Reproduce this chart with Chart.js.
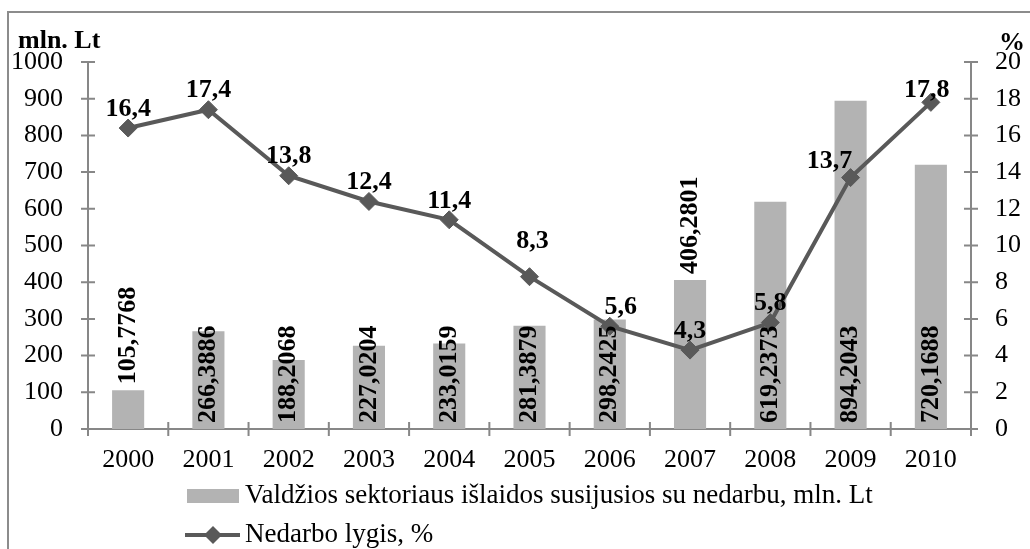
<!DOCTYPE html>
<html>
<head>
<meta charset="utf-8">
<script src="https://cdn.jsdelivr.net/npm/chart.js@4.4.0/dist/chart.umd.min.js"></script>
<style>
  html, body { margin: 0; padding: 0; background: #fff; overflow: hidden; }
  #wrap { position: relative; width: 1030px; height: 549px; }
  #frame { position: absolute; left: 7px; top: 11px; width: 1100px; height: 600px; border: 2px solid #8c8c8c; }
  canvas { position: absolute; left: 0; top: 0; }
</style>
</head>
<body>
<div id="wrap">
  <div id="frame"></div>
  <canvas id="chart" width="1030" height="549"></canvas>
</div>
<script>
const years = ['2000','2001','2002','2003','2004','2005','2006','2007','2008','2009','2010'];
const spending = [105.7768, 266.3886, 188.2068, 227.0204, 233.0159, 281.3879, 298.2425, 406.2801, 619.2373, 894.2043, 720.1688];
const unemployment = [16.4, 17.4, 13.8, 12.4, 11.4, 8.3, 5.6, 4.3, 5.8, 13.7, 17.8];
const spendingTicks = [0, 100, 200, 300, 400, 500, 600, 700, 800, 900, 1000];
const percentTicks = [0, 2, 4, 6, 8, 10, 12, 14, 16, 18, 20];
const spendingName = 'Valdžios sektoriaus išlaidos susijusios su nedarbu, mln. Lt';
const unemploymentName = 'Nedarbo lygis, %';

const axisColor = '#878787';
const barColor = '#b3b3b3';
const lineColor = '#595959';
const serif = "'Liberation Serif', 'Times New Roman', serif";

Chart.defaults.font.family = serif;
Chart.defaults.color = '#000';

const fmt = v => String(v).replace('.', ',');

// tick marks that cross the axis lines, like the office chart
const crossTicks = {
  id: 'crossTicks',
  beforeDatasetsDraw(chart) {
    const { ctx, chartArea: a, scales } = chart;
    const t = 7;
    ctx.save();
    ctx.strokeStyle = axisColor;
    ctx.lineWidth = 2;
    ctx.beginPath();
    scales.y.ticks.forEach((tk, i) => {
      const py = scales.y.getPixelForTick(i);
      ctx.moveTo(a.left - t, py); ctx.lineTo(a.left + t, py);
    });
    scales.y1.ticks.forEach((tk, i) => {
      const py = scales.y1.getPixelForTick(i);
      ctx.moveTo(a.right - t, py); ctx.lineTo(a.right + t, py);
    });
    for (let i = 0; i <= years.length; i++) {
      const px = scales.x.getPixelForValue(i - 0.5);
      ctx.moveTo(px, a.bottom - t); ctx.lineTo(px, a.bottom + t);
    }
    ctx.stroke();
    ctx.restore();
  }
};

const valueLabels = {
  id: 'valueLabels',
  afterDatasetsDraw(chart, args, opts) {
    const { ctx } = chart;
    ctx.save();
    ctx.fillStyle = '#000';
    ctx.font = 'bold 26px ' + serif;

    // bar labels, rotated
    chart.getDatasetMeta(0).data.forEach((el, i) => {
      const outside = opts.barOutside.includes(i);
      const y0 = outside ? el.y - 6 : el.base - 6;
      ctx.save();
      ctx.translate(el.x, y0);
      ctx.rotate(-Math.PI / 2);
      ctx.textAlign = 'left';
      ctx.textBaseline = 'middle';
      ctx.fillText(fmt(spending[i]), 0, 0);
      ctx.restore();
    });

    // line labels above the points
    ctx.textAlign = 'center';
    ctx.textBaseline = 'middle';
    chart.getDatasetMeta(1).data.forEach((el, i) => {
      const off = opts.lineShift[i] || [0, 0];
      ctx.fillText(fmt(unemployment[i]), el.x + off[0], el.y - 19 + off[1]);
    });
    ctx.restore();
  }
};

const extras = {
  id: 'extras',
  afterDraw(chart) {
    const { ctx, chartArea: a } = chart;
    ctx.save();
    ctx.fillStyle = '#000';
    ctx.font = 'bold 26px ' + serif;
    ctx.textBaseline = 'alphabetic';
    ctx.textAlign = 'left';
    ctx.fillText('mln. Lt', a.left - 70, a.top - 14);
    ctx.textAlign = 'right';
    ctx.fillText('%', a.right + 54, a.top - 12);

    // legend, two rows
    const lx = a.left + 99;
    ctx.font = '27px ' + serif;
    ctx.textAlign = 'left';
    ctx.fillStyle = barColor;
    ctx.fillRect(lx, 489, 52, 14);
    ctx.fillStyle = '#000';
    ctx.fillText(spendingName, lx + 58, 503);

    ctx.strokeStyle = lineColor;
    ctx.lineWidth = 4;
    ctx.beginPath();
    ctx.moveTo(lx - 2, 535); ctx.lineTo(lx + 53, 535);
    ctx.stroke();
    ctx.fillStyle = lineColor;
    ctx.beginPath();
    ctx.moveTo(lx + 26, 526); ctx.lineTo(lx + 35, 535); ctx.lineTo(lx + 26, 544); ctx.lineTo(lx + 17, 535);
    ctx.closePath();
    ctx.fill();
    ctx.fillStyle = '#000';
    ctx.fillText(unemploymentName, lx + 58, 542);
    ctx.restore();
  }
};

const plainTick = v => String(v);

new Chart(document.getElementById('chart'), {
  type: 'bar',
  data: {
    labels: years,
    datasets: [
      {
        label: spendingName,
        data: spending,
        yAxisID: 'y',
        backgroundColor: barColor,
        categoryPercentage: 1,
        barPercentage: 0.4,
        order: 1
      },
      {
        type: 'line',
        label: unemploymentName,
        data: unemployment,
        yAxisID: 'y1',
        borderColor: lineColor,
        borderWidth: 4,
        pointStyle: 'rectRot',
        pointRadius: 9,
        pointBorderWidth: 1,
        pointBackgroundColor: lineColor,
        pointBorderColor: lineColor,
        tension: 0,
        order: 0
      }
    ]
  },
  options: {
    responsive: false,
    animation: false,
    layout: { padding: { top: 62, left: 0, right: 0, bottom: 0 } },
    plugins: {
      legend: { display: false },
      tooltip: { enabled: false },
      valueLabels: {
        barOutside: [0, 7],
        lineShift: { 5: [3, -16], 6: [11, 0], 9: [-21, 3], 10: [-4, 7] }
      }
    },
    scales: {
      x: {
        grid: { display: false, drawTicks: false },
        border: { display: true, color: axisColor, width: 2 },
        ticks: { font: { size: 26 }, color: '#000', padding: 16 },
        afterFit: s => { s.height = 120; }
      },
      y: {
        position: 'left',
        min: 0, max: 1000,
        afterBuildTicks: s => { s.ticks = spendingTicks.map(v => ({ value: v })); },
        grid: { display: false, drawTicks: false },
        border: { display: true, color: axisColor, width: 2 },
        ticks: { font: { size: 26 }, color: '#000', padding: 25, callback: plainTick },
        afterFit: s => { s.width = 88; }
      },
      y1: {
        position: 'right',
        min: 0, max: 20,
        afterBuildTicks: s => { s.ticks = percentTicks.map(v => ({ value: v })); },
        grid: { display: false, drawTicks: false },
        border: { display: true, color: axisColor, width: 2 },
        ticks: { font: { size: 26 }, color: '#000', padding: 24, callback: plainTick },
        afterFit: s => { s.width = 59; }
      }
    }
  },
  plugins: [crossTicks, valueLabels, extras]
});
</script>
</body>
</html>
